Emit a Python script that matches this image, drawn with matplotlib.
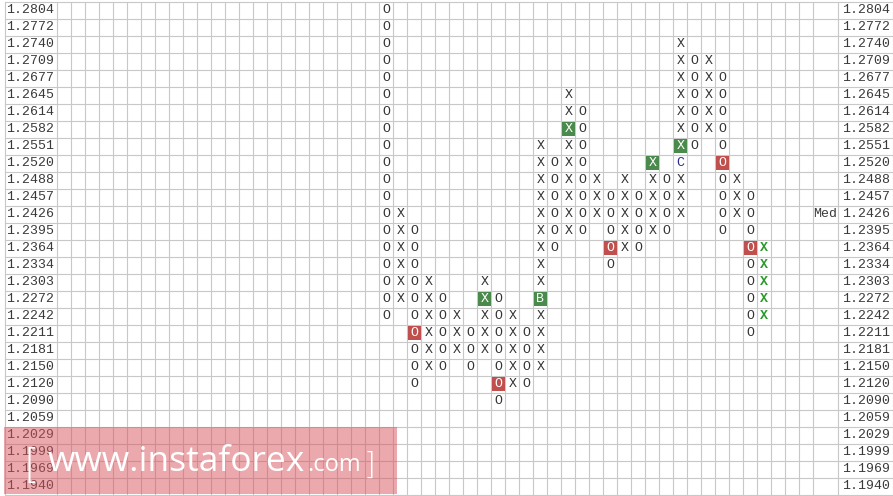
import matplotlib
matplotlib.use("Agg")
import matplotlib.pyplot as plt
from matplotlib.patches import Rectangle

# ---------------- data ----------------
price_levels = ["1.2804", "1.2772", "1.2740", "1.2709", "1.2677", "1.2645", "1.2614",
                "1.2582", "1.2551", "1.2520", "1.2488", "1.2457", "1.2426", "1.2395",
                "1.2364", "1.2334", "1.2303", "1.2272", "1.2242", "1.2211", "1.2181",
                "1.2150", "1.2120", "1.2090", "1.2059", "1.2029", "1.1999", "1.1969",
                "1.1940"]

# point & figure columns (grid column index, symbol, top price, bottom price)
col_index = [23, 24, 25, 26, 27, 28, 29, 30, 31, 32, 33, 34, 35, 36, 37, 38, 39, 40,
             41, 42, 43, 44, 45, 46, 47, 48, 49, 50]
col_symbol = ["O", "X", "O", "X", "O", "X", "O", "X", "O", "X", "O", "X", "O", "X",
              "O", "X", "O", "X", "O", "X", "O", "X", "O", "X", "O", "X", "O", "X"]
col_high = ["1.2804", "1.2426", "1.2395", "1.2303", "1.2272", "1.2242", "1.2211",
            "1.2303", "1.2272", "1.2242", "1.2211", "1.2551", "1.2520", "1.2645",
            "1.2614", "1.2488", "1.2457", "1.2488", "1.2457", "1.2520", "1.2488",
            "1.2740", "1.2709", "1.2709", "1.2677", "1.2488", "1.2457", "1.2364"]
col_low = ["1.2242", "1.2272", "1.2120", "1.2150", "1.2150", "1.2181", "1.2150",
           "1.2181", "1.2090", "1.2120", "1.2120", "1.2150", "1.2364", "1.2395",
           "1.2395", "1.2426", "1.2334", "1.2364", "1.2364", "1.2395", "1.2395",
           "1.2426", "1.2551", "1.2582", "1.2395", "1.2426", "1.2211", "1.2242"]
current_col = 50  # latest column, drawn in green text

# signal cells (column, price, label, kind)
sig_col = [25, 30, 31, 34, 36, 39, 42, 44, 44, 47, 49]
sig_price = ["1.2211", "1.2272", "1.2120", "1.2272", "1.2582", "1.2364", "1.2520",
             "1.2551", "1.2520", "1.2520", "1.2364"]
sig_label = ["O", "X", "O", "B", "X", "O", "X", "X", "C", "O", "O"]
sig_kind = ["sell", "buy", "sell", "buy", "buy", "sell", "buy", "buy", "text", "sell", "sell"]

median_price = "1.2426"

# ---------------- layout ----------------
W, H = 893, 496
CELL_W, CELL_H = 14.0, 17.0
X0, Y0 = 57.3, 1.7
n_rows = len(price_levels)

def ux(px):
    return (px - X0) / CELL_W - 0.5

def uy(px):
    return (px - Y0) / CELL_H - 0.5

fig = plt.figure(figsize=(W / 100, H / 100), dpi=100)
ax = fig.add_axes([0, 0, 1, 1])
ax.set_xlim(ux(0), ux(W))
ax.set_ylim(uy(H), uy(0))
ax.axis("off")

grid_c = "#c8c8c8"
lw = 0.8
left_b, right_b = ux(4.5), ux(892.5)
lab_right_start = ux(838.0)
# horizontal lines
for i in range(n_rows + 1):
    ax.plot([left_b, right_b], [i - 0.5, i - 0.5], color=grid_c, lw=lw, zorder=1)
# vertical lines
vx = [left_b] + [k - 0.5 for k in range(0, 55)] + [lab_right_start, right_b]
for x in vx:
    ax.plot([x, x], [-0.5, n_rows - 0.5], color=grid_c, lw=lw, zorder=1)

mono = "Liberation Mono"
fs = 9.5
lab_c = "#3a3a3a"
for i, p in enumerate(price_levels):
    ax.text(ux(6), i, p, family=mono, fontsize=fs, color=lab_c, ha="left", va="center", zorder=3)
    ax.text(ux(842), i, p, family=mono, fontsize=fs, color=lab_c, ha="left", va="center", zorder=3)
ax.text(ux(837.5), price_levels.index(median_price), "Med", family=mono, fontsize=fs,
        color=lab_c, ha="right", va="center", zorder=3)

sig_set = {(c, price_levels.index(p)) for c, p in zip(sig_col, sig_price)}
for c, s, hi, lo in zip(col_index, col_symbol, col_high, col_low):
    r0, r1 = price_levels.index(hi), price_levels.index(lo)
    for r in range(r0, r1 + 1):
        if (c, r) in sig_set:
            continue
        color = "#2a9a2a" if c == current_col else "#333333"
        weight = "bold" if c == current_col else "normal"
        ax.text(c, r, s, family=mono, fontsize=fs, color=color, weight=weight,
                ha="center", va="center", zorder=3)

box_w, box_h = 13.0 / CELL_W, 14.0 / CELL_H
for c, p, lab, kind in zip(sig_col, sig_price, sig_label, sig_kind):
    r = price_levels.index(p)
    if kind == "text":
        ax.text(c, r, lab, family=mono, fontsize=fs, color="#2b2b8a",
                ha="center", va="center", zorder=3)
        continue
    fc = "#4a8a4c" if kind == "buy" else "#c0504d"
    ax.add_patch(Rectangle((c - box_w / 2, r - box_h / 2), box_w, box_h,
                           facecolor=fc, edgecolor="none", zorder=2))
    ax.text(c, r, lab, family=mono, fontsize=fs, color="white",
            ha="center", va="center", zorder=3)

# ---------------- watermark ----------------
ax.add_patch(Rectangle((ux(3.5), uy(427)), ux(397) - ux(3.5), uy(494) - uy(427),
                       facecolor="#d9545c", alpha=0.5, edgecolor="none", zorder=5))
wm = dict(color="white", zorder=6, va="baseline")
ax.text(ux(24), uy(478), "[", family="DejaVu Sans", fontsize=29, fontweight="ultralight", **wm)
ax.text(ux(48), uy(471), "www.instaforex", family="Open Sans", fontsize=25.5, **wm)
ax.text(ux(307), uy(471), ".com", family="Open Sans", fontsize=17, **wm)
ax.text(ux(364), uy(474), "]", family="DejaVu Sans", fontsize=22, fontweight="ultralight", **wm)

fig.savefig("out.png", dpi=100)
